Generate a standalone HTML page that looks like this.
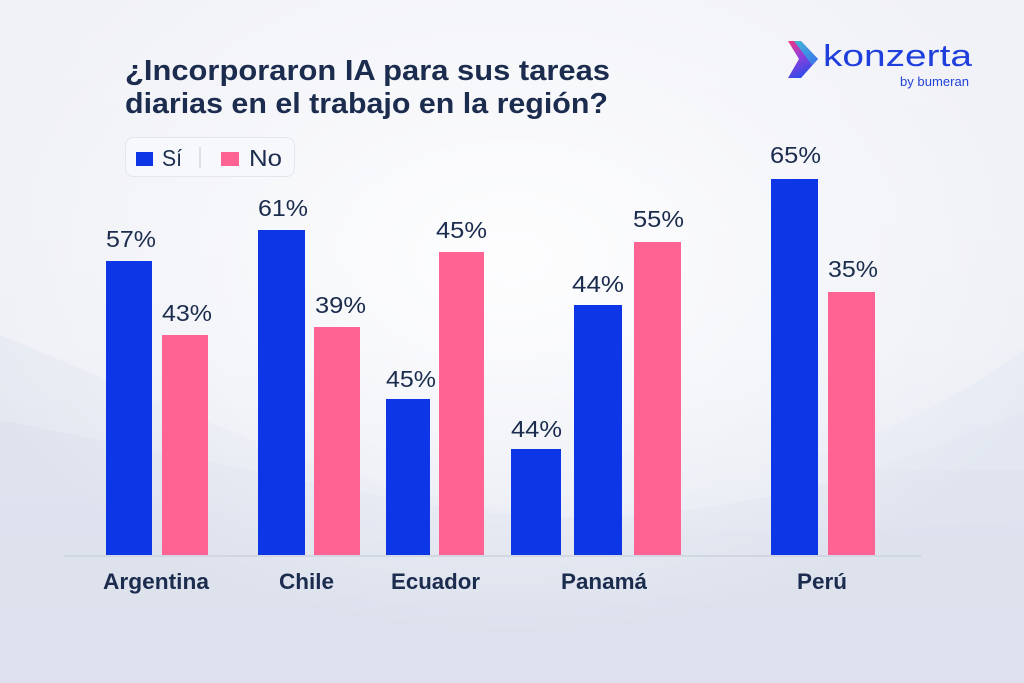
<!DOCTYPE html>
<html><head><meta charset="utf-8"><style>
html,body{margin:0;padding:0;width:1024px;height:683px;overflow:hidden;}
svg{display:block;}
text{font-family:"Liberation Sans",sans-serif;}
</style></head><body>
<svg width="1024" height="683" viewBox="0 0 1024 683" xmlns="http://www.w3.org/2000/svg">
<defs>
<linearGradient id="bg" x1="0" y1="0" x2="0" y2="1">
<stop offset="0" stop-color="#f1f2f7"/>
<stop offset="0.5" stop-color="#eef0f6"/>
<stop offset="1" stop-color="#dde2ee"/>
</linearGradient>
<radialGradient id="glow" cx="0.5" cy="0.38" r="0.55">
<stop offset="0" stop-color="#ffffff" stop-opacity="0.9"/>
<stop offset="0.6" stop-color="#ffffff" stop-opacity="0.35"/>
<stop offset="1" stop-color="#ffffff" stop-opacity="0"/>
</radialGradient>
<linearGradient id="chev" x1="0" y1="0" x2="0.4" y2="1">
<stop offset="0" stop-color="#f0367f"/>
<stop offset="0.5" stop-color="#8f3fdc"/>
<stop offset="1" stop-color="#2f4ae8"/>
</linearGradient>
<linearGradient id="chev2" x1="0" y1="0" x2="1" y2="1">
<stop offset="0" stop-color="#2fc6df"/>
<stop offset="1" stop-color="#3b74e8"/>
</linearGradient>
</defs>
<rect width="1024" height="683" fill="url(#bg)"/>
<path d="M0 335 L300 460 Q600 560 1024 520 L1024 683 L0 683 Z" fill="#dfe3ee" opacity="0.5"/>
<path d="M0 420 L400 500 Q700 560 1024 410 L1024 683 L0 683 Z" fill="#d9deeb" opacity="0.45"/>
<path d="M1024 350 Q900 440 760 470 L1024 470 Z" fill="#e3e7f1" opacity="0.6"/>
<rect width="1024" height="683" fill="url(#glow)"/>

<!-- Title -->
<text x="125" y="80" font-size="29" font-weight="700" fill="#1b2c4e" textLength="485" lengthAdjust="spacingAndGlyphs">¿Incorporaron IA para sus tareas</text>
<text x="125" y="113" font-size="29" font-weight="700" fill="#1b2c4e" textLength="483" lengthAdjust="spacingAndGlyphs">diarias en el trabajo en la región?</text>

<!-- Logo -->
<polygon points="788,41 801,41 818,59 801,78 788,78 799,59" fill="url(#chev)"/>
<polygon points="794,41 801,41 818,59 812,65" fill="url(#chev2)" opacity="0.9"/>
<text x="823" y="66" font-size="31" fill="#1f3fdc" textLength="149" lengthAdjust="spacingAndGlyphs">konzerta</text>
<text x="900" y="86" font-size="13" fill="#2343d8" textLength="69" lengthAdjust="spacingAndGlyphs">by bumeran</text>

<!-- Legend -->
<rect x="125.5" y="137.5" width="169" height="39" rx="8" fill="#f7f8fb" stroke="#e3e6ee"/>
<rect x="136" y="152" width="17" height="14" fill="#0d37e6"/>
<text x="162" y="166" font-size="23" fill="#1b2c4e" textLength="20" lengthAdjust="spacingAndGlyphs">Sí</text>
<line x1="200" y1="147" x2="200" y2="168" stroke="#d6d9e2" stroke-width="1.5"/>
<rect x="221" y="152" width="18" height="14" fill="#ff6394"/>
<text x="249" y="166" font-size="23" fill="#1b2c4e" textLength="33" lengthAdjust="spacingAndGlyphs">No</text>

<!-- Baseline -->
<line x1="64" y1="556" x2="921" y2="556" stroke="#cdd2e0" stroke-width="1.5"/>

<!-- Bars -->
<g fill="#0d37e6">
<rect x="106" y="261" width="46" height="294"/>
<rect x="258" y="230" width="47" height="325"/>
<rect x="386" y="399" width="44" height="156"/>
<rect x="511" y="449" width="50" height="106"/>
<rect x="574" y="305" width="48" height="250"/>
<rect x="771" y="179" width="47" height="376"/>
</g>
<g fill="#ff6394">
<rect x="162" y="335" width="46" height="220"/>
<rect x="314" y="327" width="46" height="228"/>
<rect x="439" y="252" width="45" height="303"/>
<rect x="634" y="242" width="47" height="313"/>
<rect x="828" y="292" width="47" height="263"/>
</g>

<!-- Value labels -->
<g font-size="23" fill="#1b2c4e">
<text x="106" y="247" textLength="50" lengthAdjust="spacingAndGlyphs">57%</text>
<text x="162" y="321" textLength="50" lengthAdjust="spacingAndGlyphs">43%</text>
<text x="258" y="216" textLength="50" lengthAdjust="spacingAndGlyphs">61%</text>
<text x="315" y="313" textLength="51" lengthAdjust="spacingAndGlyphs">39%</text>
<text x="386" y="387" textLength="50" lengthAdjust="spacingAndGlyphs">45%</text>
<text x="436" y="238" textLength="51" lengthAdjust="spacingAndGlyphs">45%</text>
<text x="511" y="437" textLength="51" lengthAdjust="spacingAndGlyphs">44%</text>
<text x="572" y="292" textLength="52" lengthAdjust="spacingAndGlyphs">44%</text>
<text x="633" y="227" textLength="51" lengthAdjust="spacingAndGlyphs">55%</text>
<text x="770" y="163" textLength="51" lengthAdjust="spacingAndGlyphs">65%</text>
<text x="828" y="277" textLength="50" lengthAdjust="spacingAndGlyphs">35%</text>
</g>

<!-- Category labels -->
<g font-size="22" font-weight="700" fill="#1b2c4e">
<text x="103" y="589" textLength="106" lengthAdjust="spacingAndGlyphs">Argentina</text>
<text x="279" y="589" textLength="55" lengthAdjust="spacingAndGlyphs">Chile</text>
<text x="391" y="589" textLength="89" lengthAdjust="spacingAndGlyphs">Ecuador</text>
<text x="561" y="589" textLength="86" lengthAdjust="spacingAndGlyphs">Panamá</text>
<text x="797" y="589" textLength="50" lengthAdjust="spacingAndGlyphs">Perú</text>
</g>
</svg>
</body></html>
